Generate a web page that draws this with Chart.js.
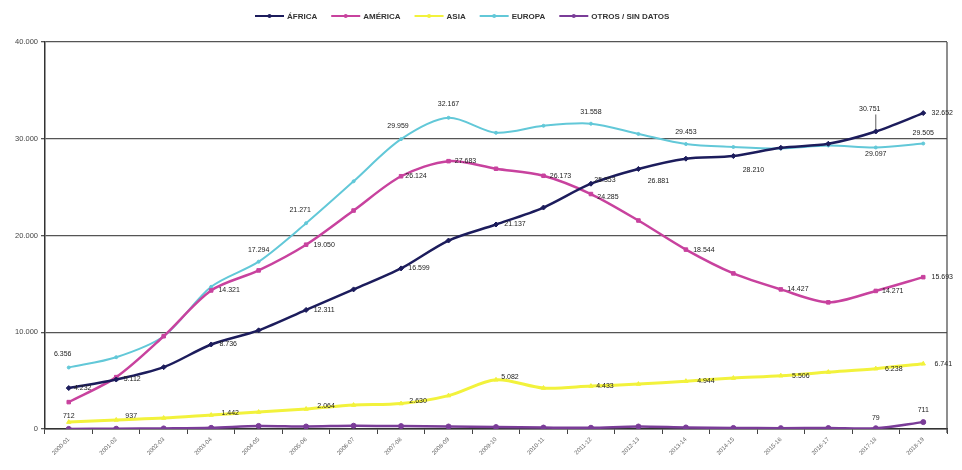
<!DOCTYPE html>
<html>
<head>
<meta charset="utf-8">
<script src="https://cdn.jsdelivr.net/npm/chart.js@4.4.0/dist/chart.umd.min.js"></script>
<style>
  body { margin: 0; background: #fff; }
  #wrap { width: 962px; height: 470px; }
</style>
</head>
<body>
<div id="wrap"><canvas id="chart"></canvas></div>
<script>
// cursos academicos
const cursos = ['2000-01', '2001-02', '2002-03', '2003-04', '2004-05', '2005-06', '2006-07',
    '2007-08', '2008-09', '2009-10', '2010-11', '2011-12', '2012-13', '2013-14', '2014-15',
    '2015-16', '2016-17', '2017-18', '2018-19'];

const africa = [4232, 5112, 6390, 8736, 10200, 12311, 14430, 16599, 19480, 21137,
    22890, 25353, 26881, 27940, 28210, 29070, 29480, 30751, 32652];
const america = [2780, 5360, 9590, 14321, 16390, 19050, 22580, 26124, 27683, 26900,
    26173, 24285, 21550, 18544, 16080, 14427, 13090, 14271, 15693];
const asia = [712, 937, 1130, 1442, 1750, 2064, 2470, 2630, 3450, 5082,
    4230, 4433, 4640, 4944, 5260, 5506, 5880, 6238, 6741];
const europa = [6356, 7420, 9590, 14700, 17294, 21271, 25600, 29959, 32167, 30620,
    31340, 31558, 30500, 29453, 29150, 29000, 29300, 29097, 29505];
const otros = [12, 30, 60, 120, 320, 260, 340, 300, 260, 200,
    150, 130, 260, 160, 110, 90, 100, 79, 711];

const yTicks = [0, 10000, 20000, 30000, 40000];

// which points carry a value label: [index, dx, dy]
const etiquetas = [
    [[0, 14, 0], [1, 16, 0], [3, 17, 0], [5, 18, 0], [7, 18, 0], [9, 19, 0], [11, 14, -4], [12, 20, 12], [14, 20, 14], [17, -6, -22], [18, 19, 0]],
    [[3, 18, 0], [5, 18, 0], [7, 15, 0], [8, 17, 0], [10, 17, 0], [11, 17, 3], [13, 18, 0], [15, 17, 0], [17, 17, 0], [18, 19, 0]],
    [[0, 0, -6], [1, 15, -4], [3, 19, -2], [5, 20, -3], [7, 17, -2], [9, 14, -3], [11, 14, 0], [13, 20, 0], [15, 20, 0], [17, 18, 0], [18, 20, 0]],
    [[0, -6, -13], [4, 0, -12], [5, -6, -13], [7, -3, -13], [8, 0, -14], [11, 0, -12], [13, 0, -12], [17, 0, 7], [18, 0, -10]],
    [[17, 0, -10], [18, 0, -12]]
];

function fmt(v) {
    return String(v).replace(/\B(?=(\d{3})+(?!\d))/g, '.');
}

const colores = ['#1c1c5c', '#c8429e', '#f2f23c', '#62c8d8', '#7a3c98'];
const nombres = ['ÁFRICA', 'AMÉRICA', 'ASIA', 'EUROPA', 'OTROS / SIN DATOS'];
const estilos = ['rectRot', 'rect', 'triangle', 'circle', 'circle'];
const series = [africa, america, asia, europa, otros];

const labelsPlugin = {
    id: 'valores',
    afterDatasetsDraw(chart) {
        const ctx = chart.ctx;
        ctx.save();
        ctx.font = '7px "Liberation Sans", Arial, sans-serif';
        ctx.fillStyle = '#222';
        ctx.textAlign = 'center';
        ctx.textBaseline = 'middle';
        etiquetas.forEach((lista, d) => {
            const meta = chart.getDatasetMeta(d);
            lista.forEach(([i, dx, dy]) => {
                const pt = meta.data[i];
                ctx.fillText(fmt(series[d][i]), pt.x + dx, pt.y + dy);
            });
        });
        // leader line for the 2017-18 africa label
        const p = chart.getDatasetMeta(0).data[17];
        ctx.strokeStyle = '#333';
        ctx.lineWidth = 0.8;
        ctx.beginPath();
        ctx.moveTo(p.x, p.y - 2);
        ctx.lineTo(p.x, p.y - 17);
        ctx.stroke();
        // right border of the plot
        const a = chart.chartArea;
        ctx.strokeStyle = '#444';
        ctx.lineWidth = 1.2;
        ctx.beginPath();
        ctx.moveTo(a.right, a.top);
        ctx.lineTo(a.right, a.bottom + 4);
        ctx.stroke();
        ctx.restore();
    }
};

const legendPlugin = {
    id: 'leyenda',
    afterDraw(chart) {
        const ctx = chart.ctx;
        ctx.save();
        ctx.font = 'bold 8px "Liberation Sans", Arial, sans-serif';
        ctx.textBaseline = 'middle';
        const y = 16;
        const seg = 29, gap = 3, sep = 14;
        let x = 255;
        nombres.forEach((n, i) => {
            ctx.strokeStyle = colores[i];
            ctx.lineWidth = 2;
            ctx.beginPath();
            ctx.moveTo(x, y);
            ctx.lineTo(x + seg, y);
            ctx.stroke();
            ctx.fillStyle = colores[i];
            ctx.beginPath();
            ctx.arc(x + seg / 2, y, 2, 0, Math.PI * 2);
            ctx.fill();
            ctx.fillStyle = '#333';
            ctx.fillText(n, x + seg + gap, y + 0.5);
            x += seg + gap + ctx.measureText(n).width + sep;
        });
        ctx.restore();
    }
};

const datasets = series.map((s, i) => ({
    label: nombres[i],
    data: s,
    borderColor: colores[i],
    backgroundColor: colores[i],
    borderWidth: i === 2 ? 3 : (i === 3 ? 2 : 2.5),
    pointStyle: estilos[i],
    pointRadius: i === 3 ? 1.5 : 2.5,
    pointBorderWidth: 1,
    tension: 0.3,
    fill: false
}));

new Chart(document.getElementById('chart'), {
    type: 'line',
    data: { labels: cursos, datasets: datasets },
    options: {
        responsive: true,
        maintainAspectRatio: false,
        animation: false,
        layout: { padding: { top: 42, right: 15, left: 0, bottom: 0 } },
        plugins: {
            legend: { display: false },
            tooltip: { enabled: false }
        },
        scales: {
            x: {
                offset: true,
                grid: { display: true, offset: true, drawOnChartArea: false, drawTicks: true, tickLength: 5, color: '#444' },
                border: { display: true, color: '#333', width: 1.5 },
                ticks: {
                    font: { size: 6, family: '"Liberation Sans", Arial, sans-serif' },
                    color: '#666',
                    minRotation: 45,
                    maxRotation: 45,
                    autoSkip: false,
                    padding: 2
                },
                afterFit(s) { s.height = 41; }
            },
            y: {
                min: 0,
                max: 40000,
                afterBuildTicks(s) { s.ticks = yTicks.map(v => ({ value: v })); },
                grid: { color: '#555', lineWidth: 1.3, tickLength: 4 },
                border: { display: true, color: '#333', width: 1.5 },
                ticks: {
                    font: { size: 7.5, family: '"Liberation Sans", Arial, sans-serif' },
                    color: '#444',
                    padding: 3,
                    callback: v => fmt(v)
                },
                afterFit(s) { s.width = 45; }
            }
        }
    },
    plugins: [labelsPlugin, legendPlugin]
});
</script>
</body>
</html>
